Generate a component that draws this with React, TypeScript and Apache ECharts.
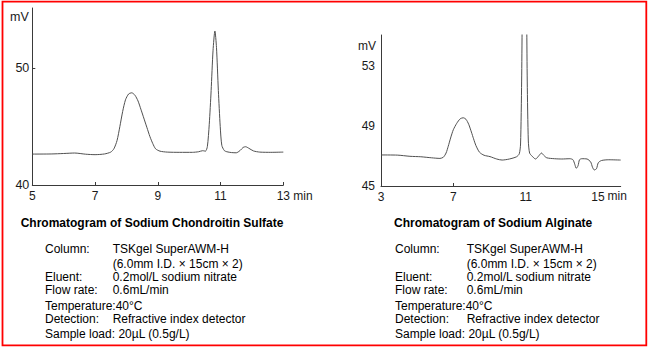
import React, { useEffect, useRef } from "react";
import * as echarts from "echarts";

// ---- Chondroitin sulfate chromatogram (time in min, signal in mV)
const chondroitinTime = [
  5.0, 5.6, 6.0, 6.35, 6.7, 7.0, 7.3, 7.5, 7.6, 7.7, 7.79, 7.88, 7.97, 8.07, 8.17, 8.27, 8.37, 8.46,
  8.54, 8.65, 8.75, 8.84, 8.93, 9.07, 9.3, 9.7, 10.1, 10.3, 10.43, 10.52, 10.58, 10.64, 10.7, 10.76,
  10.82, 10.87, 10.93, 10.99, 11.04, 11.12, 11.2, 11.35, 11.5, 11.62, 11.72, 11.8, 11.9, 12.05, 12.25,
  12.6, 13.0,
];
const chondroitinSignal = [
  42.65, 42.66, 42.7, 42.74, 42.64, 42.6, 42.66, 42.82, 43.1, 43.8, 45.0, 46.3, 47.3, 47.8, 47.9, 47.7,
  47.2, 46.5, 45.85, 44.95, 44.14, 43.55, 43.1, 42.9, 42.82, 42.8, 42.8, 42.85, 42.94, 42.9, 43.3, 45.2,
  48.1, 51.5, 53.2, 51.8, 48.1, 45.0, 43.4, 42.95, 42.85, 42.78, 42.76, 42.95, 43.22, 43.28, 43.15, 42.92,
  42.82, 42.8, 42.82,
];
const chondroitinXTicks = [5, 7, 9, 11, 13];
const chondroitinXTickMarks = [7, 9, 11, 13];
const chondroitinYTicks = [40, 50];

// ---- Sodium alginate chromatogram
const alginateTime = [
  3.0, 3.9, 4.6, 5.2, 5.8, 6.26, 6.45, 6.6, 6.72, 6.85, 7.0, 7.19, 7.38, 7.55, 7.7, 7.85, 8.0, 8.12, 8.25,
  8.45, 8.7, 9.03, 9.4, 9.7, 10.1, 10.5, 10.65, 10.72, 10.78, 10.84, 10.93, 11.03, 11.09, 11.15, 11.22,
  11.35, 11.55, 11.72, 11.88, 12.0, 12.17, 12.6, 13.0, 13.45, 13.62, 13.72, 13.8, 13.9, 13.98, 14.1, 14.4,
  14.6, 14.7, 14.8, 14.92, 15.02, 15.2, 15.6, 16.26,
];
const alginateSignal = [
  47.07, 47.06, 46.98, 46.95, 46.88, 46.84, 46.92, 47.2, 47.65, 48.2, 48.75, 49.18, 49.48, 49.55, 49.45,
  49.12, 48.6, 48.15, 47.7, 47.25, 47.05, 46.96, 46.8, 46.73, 46.8, 46.95, 47.15, 47.8, 52, 60, 66, 60, 52,
  48, 47.2, 47.0, 46.8, 47.0, 47.2, 47.05, 46.88, 46.82, 46.8, 46.82, 46.75, 46.45, 46.18, 46.35, 46.75,
  46.82, 46.8, 46.6, 46.25, 46.07, 46.15, 46.55, 46.7, 46.75, 46.73,
];
const alginateXTicks = [3, 7, 11, 15];
const alginateXTickMarks = [7];
const alginateYTicks = [45, 49, 53];

// ---- Conditions text
const leftTitle = "Chromatogram of Sodium Chondroitin Sulfate";
const rightTitle = "Chromatogram of Sodium Alginate";
const conditionLabels = ["Column:", "", "Eluent:", "Flow rate:", "Temperature:40°C", "Detection:", "Sample load: 20µL (0.5g/L)"];
const conditionValues = [
  "TSKgel SuperAWM-H",
  "(6.0mm I.D. × 15cm × 2)",
  "0.2mol/L sodium nitrate",
  "0.6mL/min",
  "",
  "Refractive index detector",
  "",
];
const conditionRowY = [248.5, 263.5, 277.3, 290, 305.8, 318.6, 334.2];

const FONT = "'Liberation Sans', Arial, sans-serif";

export default function App() {
  const ref = useRef<HTMLDivElement>(null);

  useEffect(() => {
    if (!ref.current) return;
    const chart = echarts.init(ref.current, null, { renderer: "svg" });

    const axisLine = { show: true, lineStyle: { color: "#3a3a3a", width: 1 } };
    const labelStyle = { color: "#1a1a1a", fontSize: 12, fontFamily: FONT };

    const textBlock = (titleX: number, labelX: number, valueX: number, title: string) => {
      const els: any[] = [
        {
          type: "text",
          x: titleX,
          y: 222.7,
          style: { text: title, fill: "#000", font: `bold 12px ${FONT}`, verticalAlign: "middle" },
        },
      ];
      conditionLabels.forEach((lab, i) => {
        if (lab)
          els.push({
            type: "text",
            x: labelX,
            y: conditionRowY[i],
            style: { text: lab, fill: "#000", font: `12px ${FONT}`, verticalAlign: "middle" },
          });
        if (conditionValues[i])
          els.push({
            type: "text",
            x: valueX,
            y: conditionRowY[i],
            style: { text: conditionValues[i], fill: "#000", font: `12px ${FONT}`, verticalAlign: "middle" },
          });
      });
      return els;
    };

    const option: any = {
      animation: false,
      backgroundColor: "#fff",
      grid: [
        { left: 32.3, top: 8, width: 251, height: 177 },
        { left: 381, top: 35, width: 239.7, height: 151 },
      ],
      xAxis: [
        {
          type: "value",
          gridIndex: 0,
          min: 5,
          max: 13,
          axisLine,
          splitLine: { show: false },
          axisTick: { show: true, inside: true, length: 3, customValues: chondroitinXTickMarks, lineStyle: { color: "#3a3a3a" } },
          axisLabel: { ...labelStyle, margin: 5, customValues: chondroitinXTicks },
        },
        {
          type: "value",
          gridIndex: 1,
          min: 3,
          max: 16.26,
          axisLine,
          splitLine: { show: false },
          axisTick: { show: true, inside: true, length: 3, customValues: alginateXTickMarks, lineStyle: { color: "#3a3a3a" } },
          axisLabel: { ...labelStyle, margin: 5, customValues: alginateXTicks },
        },
      ],
      yAxis: [
        {
          type: "value",
          gridIndex: 0,
          min: 40,
          max: 55.17,
          axisLine,
          splitLine: { show: false },
          axisTick: { show: true, inside: true, length: 3, customValues: [50], lineStyle: { color: "#3a3a3a" } },
          axisLabel: { ...labelStyle, fontSize: 12.5, margin: 3, customValues: chondroitinYTicks },
        },
        {
          type: "value",
          gridIndex: 1,
          min: 45,
          max: 55.07,
          axisLine,
          splitLine: { show: false },
          axisTick: { show: false },
          axisLabel: { ...labelStyle, margin: 6, customValues: alginateYTicks },
        },
      ],
      series: [
        {
          type: "line",
          xAxisIndex: 0,
          yAxisIndex: 0,
          data: chondroitinTime.map((t, i) => [t, chondroitinSignal[i]]),
          showSymbol: false,
          smooth: 0.25,
          clip: true,
          lineStyle: { color: "#505050", width: 1 },
        },
        {
          type: "line",
          xAxisIndex: 1,
          yAxisIndex: 1,
          data: alginateTime.map((t, i) => [t, alginateSignal[i]]),
          showSymbol: false,
          smooth: 0.25,
          clip: true,
          lineStyle: { color: "#505050", width: 1 },
        },
      ],
      graphic: [
        {
          type: "rect",
          shape: { x: 2.5, y: 1.7, width: 643.8, height: 343.6 },
          style: { fill: "none", stroke: "#ff0000", lineWidth: 1.8 },
          silent: true,
        },
        { type: "text", x: 10, y: 16.7, style: { text: "mV", fill: "#1a1a1a", font: `12.5px ${FONT}`, verticalAlign: "middle" } },
        { type: "text", x: 358, y: 46, style: { text: "mV", fill: "#1a1a1a", font: `12px ${FONT}`, verticalAlign: "middle" } },
        { type: "text", x: 293.3, y: 196, style: { text: "min", fill: "#1a1a1a", font: `12px ${FONT}`, verticalAlign: "middle" } },
        { type: "text", x: 607.5, y: 196, style: { text: "min", fill: "#1a1a1a", font: `12px ${FONT}`, verticalAlign: "middle" } },
        ...textBlock(20.7, 45, 112.7, leftTitle),
        ...textBlock(394, 395, 466.7, rightTitle),
      ],
    };

    chart.setOption(option);
    return () => chart.dispose();
  }, []);

  return (
    <div
      ref={ref}
      style={{ position: "absolute", left: 0, top: 0, width: 649, height: 350, background: "#fff" }}
    />
  );
}
